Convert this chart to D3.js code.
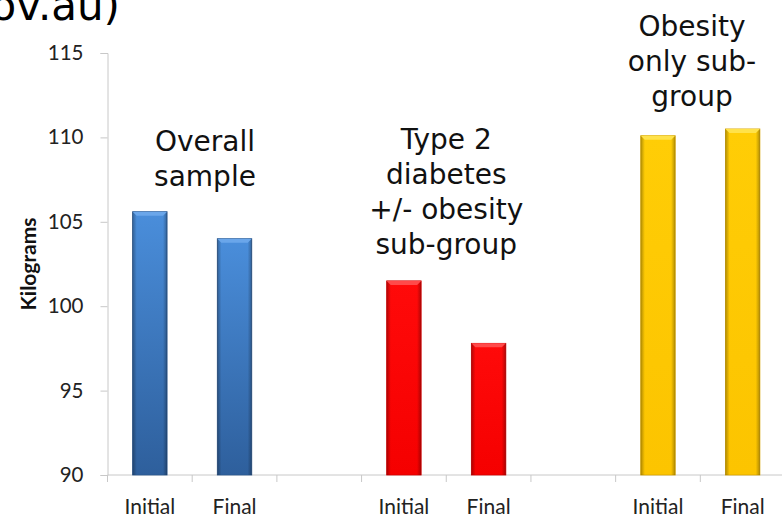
<!DOCTYPE html>
<html>
<head>
<meta charset="utf-8">
<script src="https://cdn.jsdelivr.net/npm/d3@7"></script>
<style>
  html, body { margin: 0; padding: 0; background: #ffffff; }
  svg { display: block; }
</style>
</head>
<body>
<svg id="chart" width="782" height="518"></svg>
<script>
// ---- data ----
const slots = ["overall-initial", "overall-final", "gap-1", "type2-initial", "type2-final", "gap-2", "obesity-initial", "obesity-final"];
const slotLabels = ["Initial", "Final", "", "Initial", "Final", "", "Initial", "Final"];
const groupKeys = ["overall", "type2", "obesity"];
const timepoints = ["Initial", "Final"];
const overallValues = [105.6, 104.0];
const type2Values = [101.5, 97.8];
const obesityValues = [110.1, 110.5];
const yTicks = [90, 95, 100, 105, 110, 115];
const overallLines = ["Overall", "sample"];
const type2Lines = ["Type 2", "diabetes", "+/- obesity", "sub-group"];
const obesityLines = ["Obesity", "only sub-", "group"];
const yTitle = "Kilograms";
const topText = "gov.au)";

(function () {
// ---- layout ----
const svg = d3.select("#chart");
const mLeft = 107.5, mRight = 785, mTop = 53, mBottom = 475;

const y = d3.scaleLinear().domain([90, 115]).range([mBottom, mTop]);
const x = d3.scaleBand().domain(slots).range([mLeft, mRight]).paddingInner(0.593).paddingOuter(0.2965);
const xSlot = d3.scaleBand().domain(slots).range([mLeft, mRight]).padding(0);

// gradients
const defs = svg.append("defs");
function vGrad(id, c1, c2) {
  const g = defs.append("linearGradient").attr("id", id).attr("x1", 0).attr("y1", 0).attr("x2", 0).attr("y2", 1);
  g.append("stop").attr("offset", "0%").attr("stop-color", c1);
  g.append("stop").attr("offset", "100%").attr("stop-color", c2);
}
vGrad("gBlue", "#4a8edb", "#2e5f9c");
vGrad("gRed", "#ff0a0a", "#f50000");
vGrad("gYellow", "#ffcd06", "#fcc400");
const ge = defs.append("linearGradient").attr("id", "gEdge").attr("x1", 0).attr("y1", 0).attr("x2", 1).attr("y2", 0);
[["0%", 0.3], ["12%", 0], ["88%", 0], ["100%", 0.3]].forEach(s => {
  ge.append("stop").attr("offset", s[0]).attr("stop-color", "#000").attr("stop-opacity", s[1]);
});

const styles = {
  overall: { fill: "url(#gBlue)", stroke: "#2b578e", hi: "#6aa6ea" },
  type2: { fill: "url(#gRed)", stroke: "#d40000", hi: "#ff4a4a" },
  obesity: { fill: "url(#gYellow)", stroke: "#d9a600", hi: "#ffe24a" }
};

const bars = [];
[overallValues, type2Values, obesityValues].forEach((vals, gi) => {
  vals.forEach((v, ti) => {
    bars.push({ group: groupKeys[gi], slot: groupKeys[gi] + "-" + timepoints[ti].toLowerCase(), value: v });
  });
});

// top partial text (cut by the left/top edge, as in the reference)
svg.append("text")
  .attr("x", 120).attr("y", 20)
  .attr("text-anchor", "end")
  .attr("font-family", "DejaVu Sans, Verdana, sans-serif")
  .attr("font-size", 42)
  .attr("fill", "#000")
  .text(topText);

// y axis
const yAxis = d3.axisLeft(y).tickValues(yTicks).tickSize(7).tickPadding(17).tickFormat(d3.format("d"));
const gy = svg.append("g").attr("transform", `translate(${mLeft},0)`).call(yAxis);
gy.select(".domain").attr("stroke", "#c8c8c8");
gy.selectAll(".tick line").attr("stroke", "#c8c8c8");
gy.selectAll(".tick text").attr("font-family", "Lato, Carlito, sans-serif").attr("font-size", 20.5).attr("fill", "#222");

// x axis: labels at bar centres
const xAxis = d3.axisBottom(x).tickSize(0).tickPadding(24).tickFormat(d => slotLabels[slots.indexOf(d)]);
const gx = svg.append("g").attr("transform", `translate(0,${mBottom})`).call(xAxis);
gx.select(".domain").attr("stroke", "#c8c8c8").attr("d", `M${mLeft},0H${mRight}`);
gx.selectAll(".tick text").attr("font-family", "Lato, Carlito, sans-serif").attr("font-size", 21).attr("fill", "#222");
// boundary ticks
gx.selectAll(".bound").data(slots.concat(["end"])).enter().append("line")
  .attr("class", "bound")
  .attr("x1", d => d === "end" ? xSlot.range()[1] : xSlot(d))
  .attr("x2", d => d === "end" ? xSlot.range()[1] : xSlot(d))
  .attr("y1", 0).attr("y2", 7)
  .attr("stroke", "#c8c8c8");

// bars
const gb = svg.append("g");
const bw = x.bandwidth();
const bg = gb.selectAll("g.bar").data(bars).enter().append("g").attr("class", "bar");
bg.append("rect")
  .attr("x", d => x(d.slot))
  .attr("y", d => y(d.value))
  .attr("width", bw)
  .attr("height", d => y(90) - y(d.value))
  .attr("fill", d => styles[d.group].fill)
  .attr("stroke", d => styles[d.group].stroke)
  .attr("stroke-width", 0.8);
bg.append("rect")
  .attr("x", d => x(d.slot))
  .attr("y", d => y(d.value))
  .attr("width", bw)
  .attr("height", d => y(90) - y(d.value))
  .attr("fill", "url(#gEdge)");
bg.append("path")
  .attr("d", d => {
    const x0 = x(d.slot), y0 = y(d.value);
    return `M${x0},${y0}H${x0 + bw}L${x0 + bw - 4},${y0 + 4}H${x0 + 4}Z`;
  })
  .attr("fill", d => styles[d.group].hi);

// group annotations
const ann = [
  { lines: overallLines, cx: 205, y0: 151 },
  { lines: type2Lines, cx: xSlot("type2-final"), y0: 149 },
  { lines: obesityLines, cx: 692, y0: 36 }
];
ann.forEach(a => {
  const t = svg.append("text")
    .attr("text-anchor", "middle")
    .attr("font-family", "DejaVu Sans, Verdana, sans-serif")
    .attr("font-size", 28)
    .attr("fill", "#111");
  a.lines.forEach((l, i) => {
    t.append("tspan").attr("x", a.cx).attr("y", a.y0 + i * 35).text(l);
  });
});

// y title
svg.append("text")
  .attr("transform", `translate(36,${(mTop + mBottom) / 2}) rotate(-90)`)
  .attr("text-anchor", "middle")
  .attr("font-family", "Lato, Carlito, sans-serif")
  .attr("font-weight", "bold")
  .attr("font-size", 21)
  .attr("fill", "#111")
  .text(yTitle);
})();
</script>
</body>
</html>
